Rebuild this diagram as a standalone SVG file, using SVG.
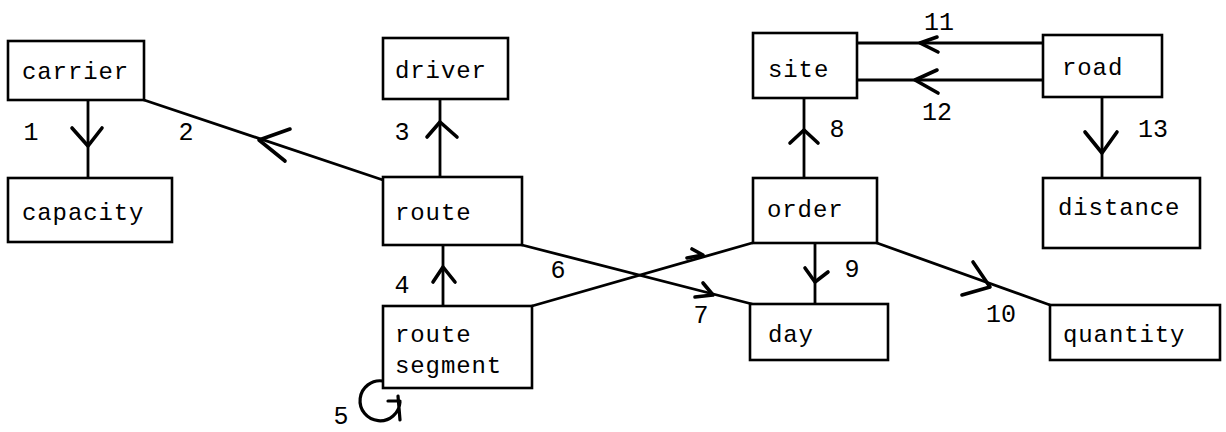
<svg xmlns="http://www.w3.org/2000/svg" width="1226" height="432" viewBox="0 0 1226 432">
  <style>
    .box { fill: #fff; stroke: #000; stroke-width: 2.6; }
    .name { font-family: "Liberation Mono", "DejaVu Sans Mono", monospace; font-size: 24px; letter-spacing: 0.9px; fill: #000; }
    .num { font-family: "Liberation Mono", "DejaVu Sans Mono", monospace; font-size: 25px; fill: #000; text-anchor: middle; }
    .line { fill: none; stroke: #000; stroke-width: 2.8; stroke-linecap: round; }
    .head { fill: none; stroke: #000; stroke-width: 3.6; stroke-linecap: round; stroke-linejoin: round; }
  </style>
  <rect width="1226" height="432" fill="#fff"/>

  <!-- connectors -->
  <g id="connectors">
    <path class="line" d="M88 100 V178"/>
    <path class="head" d="M72 128 L88 146 L102 128"/>

    <path class="line" d="M144 100 L383 180"/>
    <path class="head" d="M290 129 L259 140 L285 161"/>

    <path class="line" d="M440 99 V177"/>
    <path class="head" d="M427 137 L440 122 L457 137"/>

    <path class="line" d="M443 245 V306"/>
    <path class="head" d="M433 282 L443 267 L455 282"/>

    <!-- self loop on route segment -->
    <path class="line" style="stroke-width:3.2" d="M383 381 A20 20 0 1 0 400 402 M388 401 H400 M398 396 L400 420"/>

    <path class="line" d="M522 245 L752 304"/>
    <path class="head" d="M703 283 L713 295 L695 297"/>

    <path class="line" d="M532 306 L752 243"/>
    <path class="head" d="M687 258 L703 255 L692 249"/>

    <path class="line" d="M804 98 V178"/>
    <path class="head" d="M790 143 L804 130 L818 143"/>

    <path class="line" d="M815 243 V304"/>
    <path class="head" d="M805 268 L815 282 L828 272"/>

    <path class="line" d="M877 243 L1050 305"/>
    <path class="head" d="M973 262 L990 287 L962 295"/>

    <path class="line" d="M857 43 H1043"/>
    <path class="head" d="M937 37 L920 43 L938 52"/>

    <path class="line" d="M857 80 H1043"/>
    <path class="head" d="M937 70 L915 80 L938 93"/>

    <path class="line" d="M1102 97 V178"/>
    <path class="head" d="M1085 132 L1102 153 L1117 132"/>

    <text class="num" x="31" y="140">1</text>
    <text class="num" x="186" y="140">2</text>
    <text class="num" x="402" y="140">3</text>
    <text class="num" x="402" y="293">4</text>
    <text class="num" x="341" y="424">5</text>
    <text class="num" x="558" y="278">6</text>
    <text class="num" x="701" y="323">7</text>
    <text class="num" x="837" y="137">8</text>
    <text class="num" x="852" y="277">9</text>
    <text class="num" x="1001" y="322">10</text>
    <text class="num" x="939" y="30">11</text>
    <text class="num" x="937" y="120">12</text>
    <text class="num" x="1153" y="137">13</text>
  </g>

  <!-- entities -->
  <g id="carrier">
    <rect class="box" x="8" y="41" width="136" height="59"/>
    <text class="name" x="22" y="79">carrier</text>
  </g>
  <g id="capacity">
    <rect class="box" x="8" y="178" width="164" height="64"/>
    <text class="name" x="22" y="220">capacity</text>
  </g>
  <g id="driver">
    <rect class="box" x="383" y="38" width="125" height="61"/>
    <text class="name" x="395" y="78">driver</text>
  </g>
  <g id="route">
    <rect class="box" x="383" y="177" width="139" height="68"/>
    <text class="name" x="395" y="220">route</text>
  </g>
  <g id="route-segment">
    <rect class="box" x="383" y="306" width="149" height="82"/>
    <text class="name" x="395" y="342">route</text>
    <text class="name" x="395" y="373">segment</text>
  </g>
  <g id="site">
    <rect class="box" x="753" y="33" width="104" height="65"/>
    <text class="name" x="768" y="77">site</text>
  </g>
  <g id="road">
    <rect class="box" x="1043" y="35" width="119" height="62"/>
    <text class="name" x="1062" y="75">road</text>
  </g>
  <g id="order">
    <rect class="box" x="753" y="178" width="124" height="65"/>
    <text class="name" x="767" y="217">order</text>
  </g>
  <g id="distance">
    <rect class="box" x="1043" y="178" width="157" height="70"/>
    <text class="name" x="1058" y="215">distance</text>
  </g>
  <g id="day">
    <rect class="box" x="750" y="304" width="138" height="56"/>
    <text class="name" x="768" y="342">day</text>
  </g>
  <g id="quantity">
    <rect class="box" x="1050" y="305" width="170" height="55"/>
    <text class="name" x="1063" y="342">quantity</text>
  </g>
</svg>
